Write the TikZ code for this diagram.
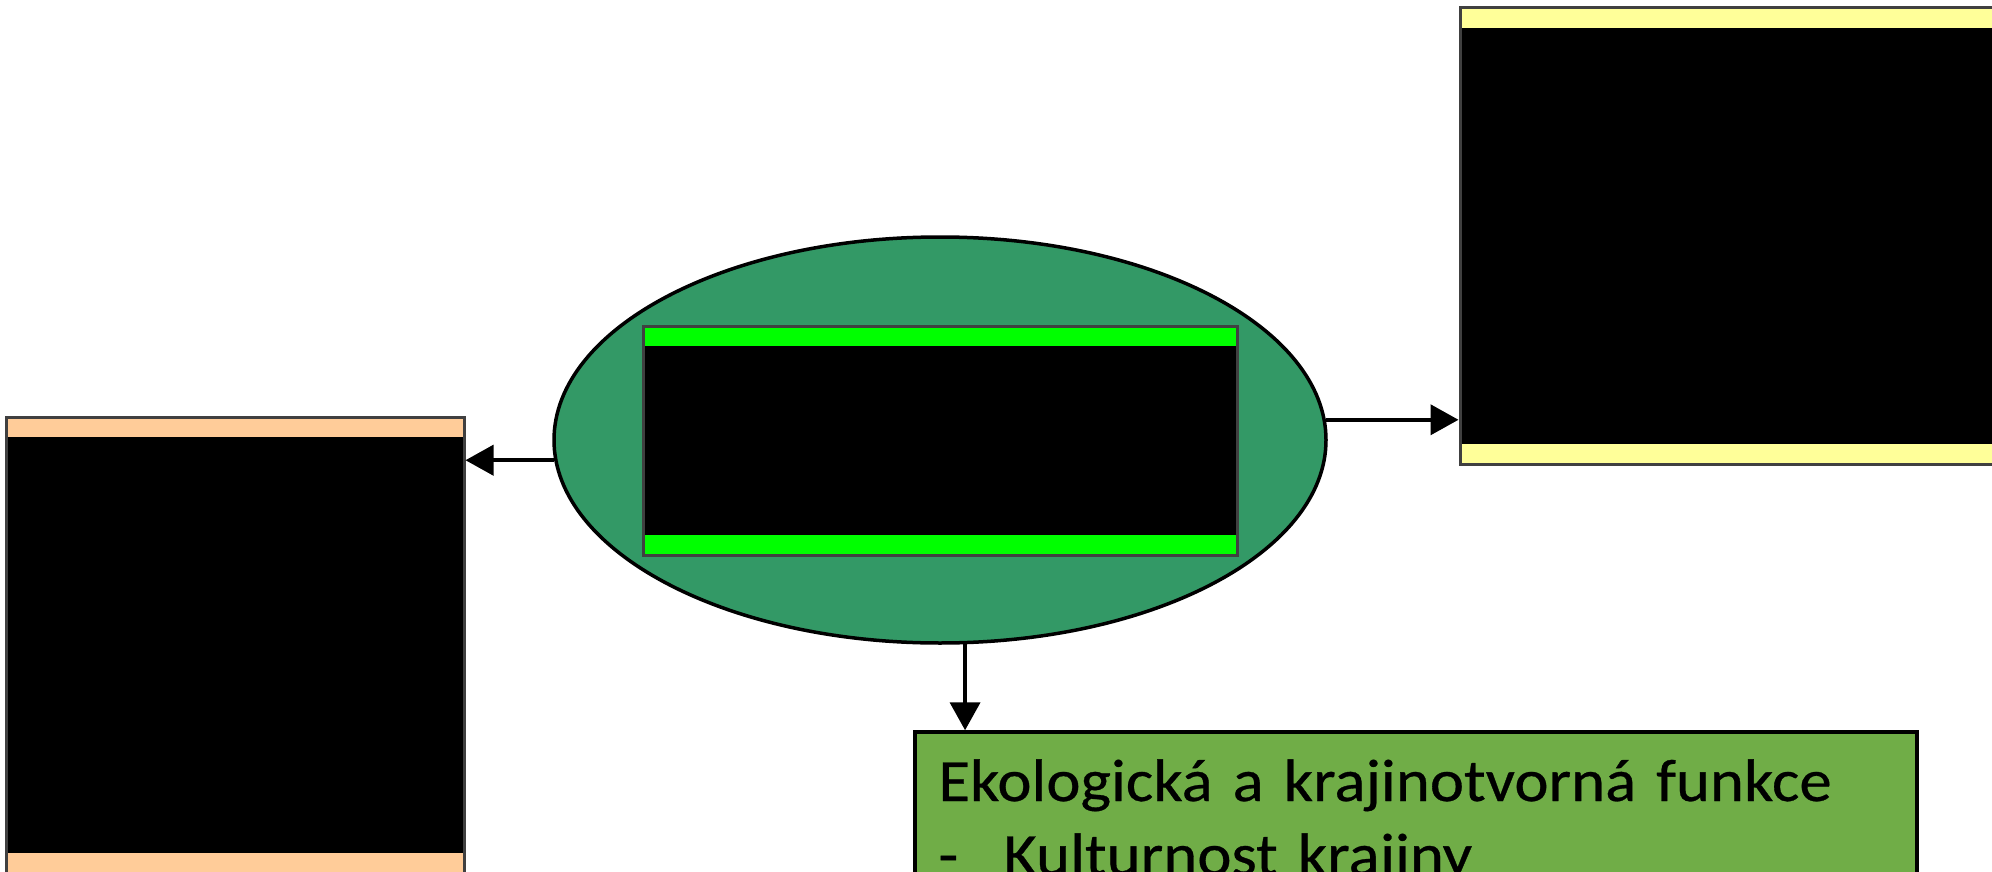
\documentclass[tikz,border=0pt]{standalone}
\usepackage[rgb]{xcolor}
\usepackage{fontspec}
\setmainfont{Carlito}
\newfontfamily\ekofont[FakeStretch=1.08, FakeBold=0.5]{Carlito}
\usepackage{tikz}
\usetikzlibrary{shapes.geometric, arrows.meta}

\definecolor{ellgreen}{HTML}{339966}
\definecolor{lightgreen}{HTML}{00FF00}
\definecolor{paleyellow}{HTML}{FFFF99}
\definecolor{peach}{HTML}{FFCC99}
\definecolor{ekogreen}{HTML}{70AD47}

\tikzset{
  stripebox/.style={draw=black!75, line width=1.5pt, fill=#1, inner sep=0pt,
    path picture={\fill[black] ([yshift=-10pt]path picture bounding box.north west)
      rectangle ([yshift=10pt]path picture bounding box.south east);}},
  link/.style={line width=2pt, -{Triangle[length=14pt, width=15pt]}}
}

\begin{document}
\begin{tikzpicture}[x=0.5pt, y=-0.5pt]

\useasboundingbox (0,0) rectangle (1992,872);

%% central ellipse with its box
\path
(940,440) node[ellipse, draw, line width=1.75pt, fill=ellgreen,
  minimum width=386pt, minimum height=203pt] (ell){};
\path
(940,440.5) node[stripebox=lightgreen, minimum width=297pt, minimum height=114.5pt] (core){};

%% side boxes
\path
(1760,236) node[stripebox=paleyellow, minimum width=300pt, minimum height=228pt] (rightbox){};
\path
(235,645) node[stripebox=peach, minimum width=229pt, minimum height=228pt] (leftbox){};

%% bottom box
\path
(1416,866) node[draw, line width=1.75pt, fill=ekogreen, minimum width=501pt,
  minimum height=134pt] (ekobox){};
\path
(938,801) node[anchor=base west, inner sep=0pt, text width=490pt, align=left,
  font=\ekofont\fontsize{30pt}{37pt}\selectfont] (ekotext)
  {Ekologická a krajinotvorná funkce\\\makebox[32.5pt][l]{-}Kulturnost krajiny};

%% arrows
\draw[link] (ell.183.43) -- (ell.183.43 -| leftbox.east);
\draw[link] (ell.3.43) -- (ell.3.43 -| rightbox.west);
\draw[link] (ell.-83.53) -- (ell.-83.53 |- ekobox.north);

\end{tikzpicture}
\end{document}
